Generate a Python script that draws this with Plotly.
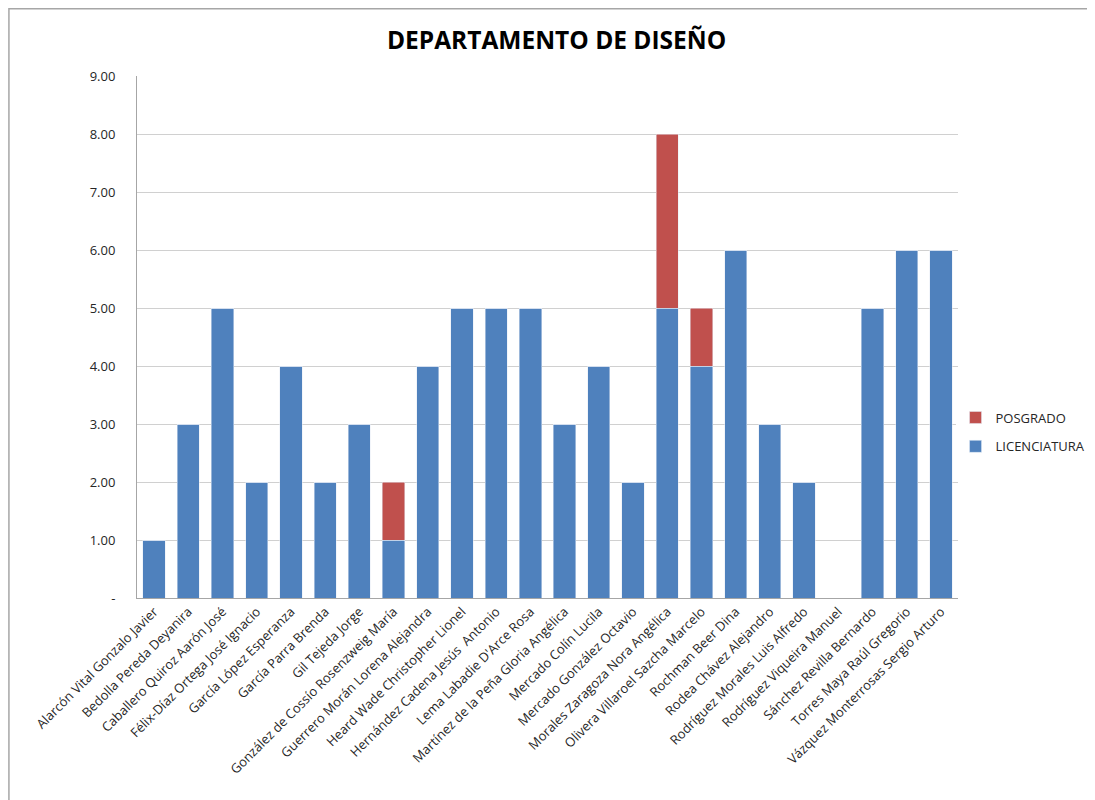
import plotly.graph_objects as go

# Profesores del departamento
nombres = [
    "Alarcón Vital Gonzalo Javier", "Bedolla Pereda Deyanira", "Caballero Quiroz Aarón José",
    "Félix-Díaz Ortega José Ignacio", "García López Esperanza", "García Parra Brenda",
    "Gil Tejeda Jorge", "González de Cossío Rosenzweig María", "Guerrero Morán Lorena Alejandra",
    "Heard Wade Christopher Lionel", "Hernández Cadena Jesús  Antonio", "Lema Labadie D'Arce Rosa",
    "Martínez de la Peña Gloria Angélica", "Mercado Colín Lucila", "Mercado González Octavio",
    "Morales Zaragoza Nora Angélica", "Olivera Villaroel Sazcha Marcelo", "Rochman Beer Dina",
    "Rodea Chávez Alejandro", "Rodríguez Morales Luis Alfredo", "Rodríguez Viqueira Manuel",
    "Sánchez Revilla Bernardo", "Torres Maya Raúl Gregorio", "Vázquez Monterrosas Sergio Arturo",
]
licenciatura = [1, 3, 5, 2, 4, 2, 3, 1, 4, 5, 5, 5, 3, 4, 2, 5, 4, 6, 3, 2, 0, 5, 6, 6]
posgrado = [0, 0, 0, 0, 0, 0, 0, 1, 0, 0, 0, 0, 0, 0, 0, 3, 1, 0, 0, 0, 0, 0, 0, 0]

y_ticks = [0, 1, 2, 3, 4, 5, 6, 7, 8, 9]
y_text = ["-"] + [f"{v:.2f}" for v in y_ticks[1:]]

fig = go.Figure()
fig.add_trace(go.Bar(x=nombres, y=licenciatura, name="LICENCIATURA", legendgroup="lic",
                     legendrank=2, marker_color="#4F81BD"))
fig.add_trace(go.Bar(x=nombres, y=posgrado, name="POSGRADO", legendgroup="pos",
                     legendrank=1, marker_color="#C0504D"))

# la página html añade 8px de margen, se compensa aquí
fig.update_layout(
    barmode="stack",
    bargap=0.35,
    width=1095, height=800,
    margin=dict(l=129, r=145, t=68, b=210, autoexpand=False),
    paper_bgcolor="white", plot_bgcolor="white",
    font=dict(family="Open Sans", size=13, color="#262626"),
    title=dict(text="<b>DEPARTAMENTO DE DISEÑO</b>", x=0.501, xanchor="center",
               y=0.96, yanchor="middle", font=dict(size=24.5, color="black")),
    legend=dict(x=0.997, y=0.318, xanchor="left", yanchor="middle",
                traceorder="grouped", tracegroupgap=9,
                font=dict(size=13), itemwidth=30),
    showlegend=True,
)
fig.update_xaxes(tickangle=-45, showline=True, linecolor="#A6A6A6", ticks="",
                 tickfont=dict(size=13))
fig.update_yaxes(range=[0, 9], tickvals=y_ticks, ticktext=y_text, showgrid=True,
                 gridcolor="#D0D0D0", showline=True, linecolor="#A6A6A6",
                 zeroline=False, ticks="", tickfont=dict(size=13), ticklabelstandoff=18)

# marco exterior del gráfico
fig.add_shape(type="rect", xref="paper", yref="paper", x0=-0.156, x1=1.35,
              y0=-0.5, y1=1.129, line=dict(color="#A6A6A6", width=1.5), layer="below")

fig.write_html("out.html")
